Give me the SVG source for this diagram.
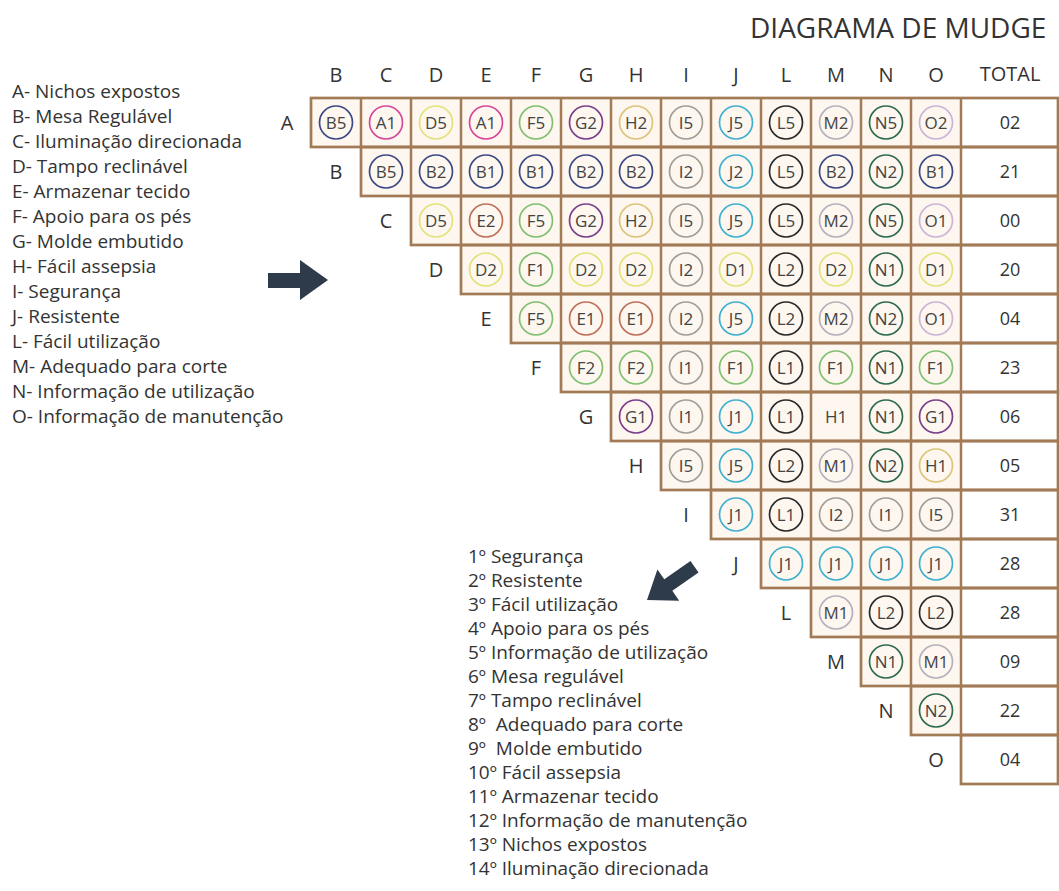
<svg xmlns="http://www.w3.org/2000/svg" width="1059" height="891" viewBox="0 0 1059 891">
<style>
text{font-family:"Open Sans","Liberation Sans",sans-serif;fill:#333}
.title{font-size:28px}
.hd{font-size:20px;text-anchor:middle}
.lg{font-size:19px}
.pre{white-space:pre}
.tt{font-size:18px;text-anchor:middle}
.rowf{fill:#fdf7f0;stroke:none}
.rowo{fill:none;stroke:#a27a55;stroke-width:2.7}
.vl{fill:none;stroke:#a27a55;stroke-width:2.5}
#cells circle{fill:none;stroke-width:1.7}
#cells text{font-size:17px;text-anchor:middle;fill:#444;stroke:none}
.kA{stroke:#d6489a}.kB{stroke:#3b4a85}.kD{stroke:#e3e27a}.kE{stroke:#c0705a}
.kF{stroke:#80c070}.kG{stroke:#7a3f8a}.kH{stroke:#dcc47a}.kI{stroke:#a39e95}
.kJ{stroke:#3fb0cf}.kL{stroke:#2a2a2a}.kM{stroke:#b5b0bb}.kN{stroke:#2f6b4f}.kO{stroke:#cbb4d8}
.arr{fill:#2e3b4a}
</style>
<rect width="1059" height="891" fill="#ffffff"/>
<text id="title" class="title" x="750" y="38">DIAGRAMA DE MUDGE</text>

<g id="legend" class="lg">
<text x="12" y="98">A- Nichos expostos</text>
<text x="12" y="123">B- Mesa Regulável</text>
<text x="12" y="148">C- Iluminação direcionada</text>
<text x="12" y="173">D- Tampo reclinável</text>
<text x="12" y="198">E- Armazenar tecido</text>
<text x="12" y="223">F- Apoio para os pés</text>
<text x="12" y="248">G- Molde embutido</text>
<text x="12" y="273">H- Fácil assepsia</text>
<text x="12" y="298">I- Segurança</text>
<text x="12" y="323">J- Resistente</text>
<text x="12" y="348">L- Fácil utilização</text>
<text x="12" y="373">M- Adequado para corte</text>
<text x="12" y="398">N- Informação de utilização</text>
<text x="12" y="423">O- Informação de manutenção</text>
</g>

<g id="grid">
<rect class="rowf" x="311" y="98" width="747" height="49"/>
<rect class="rowf" x="361" y="147" width="697" height="49"/>
<rect class="rowf" x="411" y="196" width="647" height="49"/>
<rect class="rowf" x="461" y="245" width="597" height="49"/>
<rect class="rowf" x="511" y="294" width="547" height="49"/>
<rect class="rowf" x="561" y="343" width="497" height="49"/>
<rect class="rowf" x="611" y="392" width="447" height="49"/>
<rect class="rowf" x="661" y="441" width="397" height="49"/>
<rect class="rowf" x="711" y="490" width="347" height="49"/>
<rect class="rowf" x="761" y="539" width="297" height="49"/>
<rect class="rowf" x="811" y="588" width="247" height="49"/>
<rect class="rowf" x="861" y="637" width="197" height="49"/>
<rect class="rowf" x="911" y="686" width="147" height="49"/>
<rect x="961" y="98" width="97" height="686" fill="#ffffff"/>
<rect class="rowo" x="311" y="98" width="747" height="49"/>
<rect class="rowo" x="361" y="147" width="697" height="49"/>
<rect class="rowo" x="411" y="196" width="647" height="49"/>
<rect class="rowo" x="461" y="245" width="597" height="49"/>
<rect class="rowo" x="511" y="294" width="547" height="49"/>
<rect class="rowo" x="561" y="343" width="497" height="49"/>
<rect class="rowo" x="611" y="392" width="447" height="49"/>
<rect class="rowo" x="661" y="441" width="397" height="49"/>
<rect class="rowo" x="711" y="490" width="347" height="49"/>
<rect class="rowo" x="761" y="539" width="297" height="49"/>
<rect class="rowo" x="811" y="588" width="247" height="49"/>
<rect class="rowo" x="861" y="637" width="197" height="49"/>
<rect class="rowo" x="911" y="686" width="147" height="49"/>
<rect class="rowo" x="961" y="735" width="97" height="49"/>
<path class="vl" d="M361 98V147M411 98V196M461 98V245M511 98V294M561 98V343M611 98V392M661 98V441M711 98V490M761 98V539M811 98V588M861 98V637M911 98V686M961 98V735"/>
</g>

<g id="headers" class="hd">
<text x="336" y="82">B</text><text x="386" y="82">C</text><text x="436" y="82">D</text>
<text x="486" y="82">E</text><text x="536" y="82">F</text><text x="586" y="82">G</text>
<text x="636" y="82">H</text><text x="686" y="82">I</text><text x="736" y="82">J</text>
<text x="786" y="82">L</text><text x="836" y="82">M</text><text x="886" y="82">N</text>
<text x="936" y="82">O</text><text x="1010" y="81">TOTAL</text>
</g>

<g id="rowlabels" class="hd">
<text x="287" y="129.5">A</text><text x="336" y="178.5">B</text><text x="386" y="227.5">C</text>
<text x="436" y="276.5">D</text><text x="486" y="325.5">E</text><text x="536" y="374.5">F</text>
<text x="586" y="423.5">G</text><text x="636" y="472.5">H</text><text x="686" y="521.5">I</text>
<text x="736" y="570.5">J</text><text x="786" y="619.5">L</text><text x="836" y="668.5">M</text>
<text x="886" y="717.5">N</text><text x="936" y="766.5">O</text>
</g>

<g id="cells">
<g id="rowA">
<g class="kB" transform="translate(336 122.5)"><circle r="16.5"/><text y="6">B5</text></g>
<g class="kA" transform="translate(386 122.5)"><circle r="16.5"/><text y="6">A1</text></g>
<g class="kD" transform="translate(436 122.5)"><circle r="16.5"/><text y="6">D5</text></g>
<g class="kA" transform="translate(486 122.5)"><circle r="16.5"/><text y="6">A1</text></g>
<g class="kF" transform="translate(536 122.5)"><circle r="16.5"/><text y="6">F5</text></g>
<g class="kG" transform="translate(586 122.5)"><circle r="16.5"/><text y="6">G2</text></g>
<g class="kH" transform="translate(636 122.5)"><circle r="16.5"/><text y="6">H2</text></g>
<g class="kI" transform="translate(686 122.5)"><circle r="16.5"/><text y="6">I5</text></g>
<g class="kJ" transform="translate(736 122.5)"><circle r="16.5"/><text y="6">J5</text></g>
<g class="kL" transform="translate(786 122.5)"><circle r="16.5"/><text y="6">L5</text></g>
<g class="kM" transform="translate(836 122.5)"><circle r="16.5"/><text y="6">M2</text></g>
<g class="kN" transform="translate(886 122.5)"><circle r="16.5"/><text y="6">N5</text></g>
<g class="kO" transform="translate(936 122.5)"><circle r="16.5"/><text y="6">O2</text></g>
</g>
<g id="rowB">
<g class="kB" transform="translate(386 171.5)"><circle r="16.5"/><text y="6">B5</text></g>
<g class="kB" transform="translate(436 171.5)"><circle r="16.5"/><text y="6">B2</text></g>
<g class="kB" transform="translate(486 171.5)"><circle r="16.5"/><text y="6">B1</text></g>
<g class="kB" transform="translate(536 171.5)"><circle r="16.5"/><text y="6">B1</text></g>
<g class="kB" transform="translate(586 171.5)"><circle r="16.5"/><text y="6">B2</text></g>
<g class="kB" transform="translate(636 171.5)"><circle r="16.5"/><text y="6">B2</text></g>
<g class="kI" transform="translate(686 171.5)"><circle r="16.5"/><text y="6">I2</text></g>
<g class="kJ" transform="translate(736 171.5)"><circle r="16.5"/><text y="6">J2</text></g>
<g class="kL" transform="translate(786 171.5)"><circle r="16.5"/><text y="6">L5</text></g>
<g class="kB" transform="translate(836 171.5)"><circle r="16.5"/><text y="6">B2</text></g>
<g class="kN" transform="translate(886 171.5)"><circle r="16.5"/><text y="6">N2</text></g>
<g class="kB" transform="translate(936 171.5)"><circle r="16.5"/><text y="6">B1</text></g>
</g>
<g id="rowC">
<g class="kD" transform="translate(436 220.5)"><circle r="16.5"/><text y="6">D5</text></g>
<g class="kE" transform="translate(486 220.5)"><circle r="16.5"/><text y="6">E2</text></g>
<g class="kF" transform="translate(536 220.5)"><circle r="16.5"/><text y="6">F5</text></g>
<g class="kG" transform="translate(586 220.5)"><circle r="16.5"/><text y="6">G2</text></g>
<g class="kH" transform="translate(636 220.5)"><circle r="16.5"/><text y="6">H2</text></g>
<g class="kI" transform="translate(686 220.5)"><circle r="16.5"/><text y="6">I5</text></g>
<g class="kJ" transform="translate(736 220.5)"><circle r="16.5"/><text y="6">J5</text></g>
<g class="kL" transform="translate(786 220.5)"><circle r="16.5"/><text y="6">L5</text></g>
<g class="kM" transform="translate(836 220.5)"><circle r="16.5"/><text y="6">M2</text></g>
<g class="kN" transform="translate(886 220.5)"><circle r="16.5"/><text y="6">N5</text></g>
<g class="kO" transform="translate(936 220.5)"><circle r="16.5"/><text y="6">O1</text></g>
</g>
<g id="rowD">
<g class="kD" transform="translate(486 269.5)"><circle r="16.5"/><text y="6">D2</text></g>
<g class="kF" transform="translate(536 269.5)"><circle r="16.5"/><text y="6">F1</text></g>
<g class="kD" transform="translate(586 269.5)"><circle r="16.5"/><text y="6">D2</text></g>
<g class="kD" transform="translate(636 269.5)"><circle r="16.5"/><text y="6">D2</text></g>
<g class="kI" transform="translate(686 269.5)"><circle r="16.5"/><text y="6">I2</text></g>
<g class="kD" transform="translate(736 269.5)"><circle r="16.5"/><text y="6">D1</text></g>
<g class="kL" transform="translate(786 269.5)"><circle r="16.5"/><text y="6">L2</text></g>
<g class="kD" transform="translate(836 269.5)"><circle r="16.5"/><text y="6">D2</text></g>
<g class="kN" transform="translate(886 269.5)"><circle r="16.5"/><text y="6">N1</text></g>
<g class="kD" transform="translate(936 269.5)"><circle r="16.5"/><text y="6">D1</text></g>
</g>
<g id="rowE">
<g class="kF" transform="translate(536 318.5)"><circle r="16.5"/><text y="6">F5</text></g>
<g class="kE" transform="translate(586 318.5)"><circle r="16.5"/><text y="6">E1</text></g>
<g class="kE" transform="translate(636 318.5)"><circle r="16.5"/><text y="6">E1</text></g>
<g class="kI" transform="translate(686 318.5)"><circle r="16.5"/><text y="6">I2</text></g>
<g class="kJ" transform="translate(736 318.5)"><circle r="16.5"/><text y="6">J5</text></g>
<g class="kL" transform="translate(786 318.5)"><circle r="16.5"/><text y="6">L2</text></g>
<g class="kM" transform="translate(836 318.5)"><circle r="16.5"/><text y="6">M2</text></g>
<g class="kN" transform="translate(886 318.5)"><circle r="16.5"/><text y="6">N2</text></g>
<g class="kO" transform="translate(936 318.5)"><circle r="16.5"/><text y="6">O1</text></g>
</g>
<g id="rowF">
<g class="kF" transform="translate(586 367.5)"><circle r="16.5"/><text y="6">F2</text></g>
<g class="kF" transform="translate(636 367.5)"><circle r="16.5"/><text y="6">F2</text></g>
<g class="kI" transform="translate(686 367.5)"><circle r="16.5"/><text y="6">I1</text></g>
<g class="kF" transform="translate(736 367.5)"><circle r="16.5"/><text y="6">F1</text></g>
<g class="kL" transform="translate(786 367.5)"><circle r="16.5"/><text y="6">L1</text></g>
<g class="kF" transform="translate(836 367.5)"><circle r="16.5"/><text y="6">F1</text></g>
<g class="kN" transform="translate(886 367.5)"><circle r="16.5"/><text y="6">N1</text></g>
<g class="kF" transform="translate(936 367.5)"><circle r="16.5"/><text y="6">F1</text></g>
</g>
<g id="rowG">
<g class="kG" transform="translate(636 416.5)"><circle r="16.5"/><text y="6">G1</text></g>
<g class="kI" transform="translate(686 416.5)"><circle r="16.5"/><text y="6">I1</text></g>
<g class="kJ" transform="translate(736 416.5)"><circle r="16.5"/><text y="6">J1</text></g>
<g class="kL" transform="translate(786 416.5)"><circle r="16.5"/><text y="6">L1</text></g>
<g transform="translate(836 416.5)"><text y="6">H1</text></g>
<g class="kN" transform="translate(886 416.5)"><circle r="16.5"/><text y="6">N1</text></g>
<g class="kG" transform="translate(936 416.5)"><circle r="16.5"/><text y="6">G1</text></g>
</g>
<g id="rowH">
<g class="kI" transform="translate(686 465.5)"><circle r="16.5"/><text y="6">I5</text></g>
<g class="kJ" transform="translate(736 465.5)"><circle r="16.5"/><text y="6">J5</text></g>
<g class="kL" transform="translate(786 465.5)"><circle r="16.5"/><text y="6">L2</text></g>
<g class="kM" transform="translate(836 465.5)"><circle r="16.5"/><text y="6">M1</text></g>
<g class="kN" transform="translate(886 465.5)"><circle r="16.5"/><text y="6">N2</text></g>
<g class="kH" transform="translate(936 465.5)"><circle r="16.5"/><text y="6">H1</text></g>
</g>
<g id="rowI">
<g class="kJ" transform="translate(736 514.5)"><circle r="16.5"/><text y="6">J1</text></g>
<g class="kL" transform="translate(786 514.5)"><circle r="16.5"/><text y="6">L1</text></g>
<g class="kI" transform="translate(836 514.5)"><circle r="16.5"/><text y="6">I2</text></g>
<g class="kI" transform="translate(886 514.5)"><circle r="16.5"/><text y="6">I1</text></g>
<g class="kI" transform="translate(936 514.5)"><circle r="16.5"/><text y="6">I5</text></g>
</g>
<g id="rowJ">
<g class="kJ" transform="translate(786 563.5)"><circle r="16.5"/><text y="6">J1</text></g>
<g class="kJ" transform="translate(836 563.5)"><circle r="16.5"/><text y="6">J1</text></g>
<g class="kJ" transform="translate(886 563.5)"><circle r="16.5"/><text y="6">J1</text></g>
<g class="kJ" transform="translate(936 563.5)"><circle r="16.5"/><text y="6">J1</text></g>
</g>
<g id="rowL">
<g class="kM" transform="translate(836 612.5)"><circle r="16.5"/><text y="6">M1</text></g>
<g class="kL" transform="translate(886 612.5)"><circle r="16.5"/><text y="6">L2</text></g>
<g class="kL" transform="translate(936 612.5)"><circle r="16.5"/><text y="6">L2</text></g>
</g>
<g id="rowM">
<g class="kN" transform="translate(886 661.5)"><circle r="16.5"/><text y="6">N1</text></g>
<g class="kM" transform="translate(936 661.5)"><circle r="16.5"/><text y="6">M1</text></g>
</g>
<g id="rowN">
<g class="kN" transform="translate(936 710.5)"><circle r="16.5"/><text y="6">N2</text></g>
</g>
</g>

<g id="totals" class="tt">
<text x="1010" y="129">02</text><text x="1010" y="178">21</text><text x="1010" y="227">00</text>
<text x="1010" y="276">20</text><text x="1010" y="325">04</text><text x="1010" y="374">23</text>
<text x="1010" y="423">06</text><text x="1010" y="472">05</text><text x="1010" y="521">31</text>
<text x="1010" y="570">28</text><text x="1010" y="619">28</text><text x="1010" y="668">09</text>
<text x="1010" y="717">22</text><text x="1010" y="766">04</text>
</g>

<g id="ranking" class="lg">
<text x="468" y="563">1º Segurança</text>
<text x="468" y="587">2º Resistente</text>
<text x="468" y="611">3º Fácil utilização</text>
<text x="468" y="635">4º Apoio para os pés</text>
<text x="468" y="659">5º Informação de utilização</text>
<text x="468" y="683">6º Mesa regulável</text>
<text x="468" y="707">7º Tampo reclinável</text>
<text class="pre" x="468" y="731">8º  Adequado para corte</text>
<text class="pre" x="468" y="755">9º  Molde embutido</text>
<text x="468" y="779">10º Fácil assepsia</text>
<text x="468" y="803">11º Armazenar tecido</text>
<text x="468" y="827">12º Informação de manutenção</text>
<text x="468" y="851">13º Nichos expostos</text>
<text x="468" y="875">14º Iluminação direcionada</text>
</g>

<g id="connectors">
<polygon class="arr" points="268,273 300,273 300,260 328,280 300,300 300,288 268,288"/>
<polygon class="arr" transform="translate(647 600) rotate(145)" points="0,0 -26,19 -26,7 -58,7 -58,-7 -26,-7 -26,-19"/>
</g>
</svg>
